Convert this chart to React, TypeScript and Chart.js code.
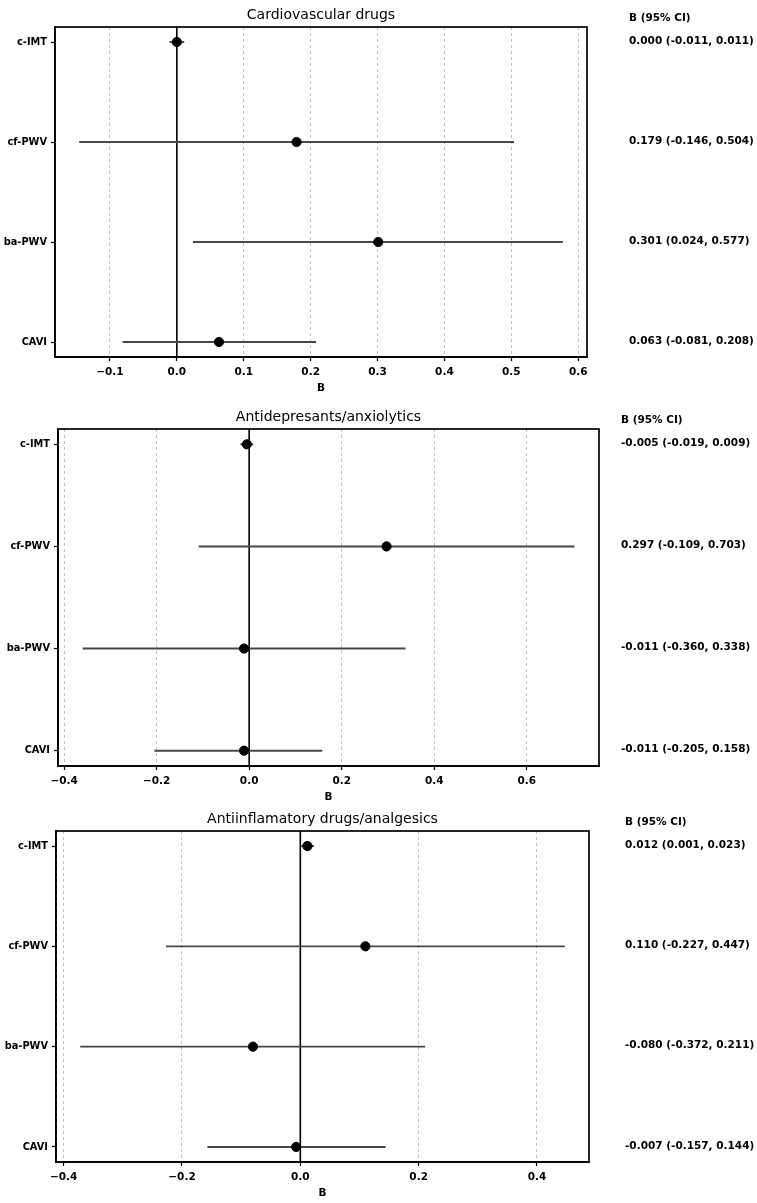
import React, { useEffect, useRef } from "react";
import { Chart, registerables } from "chart.js";

Chart.register(...registerables);

const categories = ["c-IMT", "cf-PWV", "ba-PWV", "CAVI"];

const cardioB = [0.0, 0.179, 0.301, 0.063];
const cardioLo = [-0.011, -0.146, 0.024, -0.081];
const cardioHi = [0.011, 0.504, 0.577, 0.208];
const cardioTicks = [-0.1, 0.0, 0.1, 0.2, 0.3, 0.4, 0.5, 0.6];

const antidepB = [-0.005, 0.297, -0.011, -0.011];
const antidepLo = [-0.019, -0.109, -0.36, -0.205];
const antidepHi = [0.009, 0.703, 0.338, 0.158];
const antidepTicks = [-0.4, -0.2, 0.0, 0.2, 0.4, 0.6];

const inflamB = [0.012, 0.11, -0.08, -0.007];
const inflamLo = [0.001, -0.227, -0.372, -0.157];
const inflamHi = [0.023, 0.447, 0.211, 0.144];
const inflamTicks = [-0.4, -0.2, 0.0, 0.2, 0.4];

const titles = ["Cardiovascular drugs", "Antidepresants/anxiolytics", "Antiinflamatory drugs/analgesics"];

const FONT = "DejaVu Sans";
const W = 757;

type Panel = {
  title: string;
  b: number[];
  lo: number[];
  hi: number[];
  ticks: number[];
  top: number;
  height: number;
  area: { l: number; r: number; t: number; b: number };
  textX: number;
};

const panels: Panel[] = [
  { title: titles[0], b: cardioB, lo: cardioLo, hi: cardioHi, ticks: cardioTicks, top: 0, height: 400, area: { l: 55, r: 587, t: 27, b: 357 }, textX: 629 },
  { title: titles[1], b: antidepB, lo: antidepLo, hi: antidepHi, ticks: antidepTicks, top: 400, height: 403, area: { l: 58, r: 599, t: 29, b: 366 }, textX: 621 },
  { title: titles[2], b: inflamB, lo: inflamLo, hi: inflamHi, ticks: inflamTicks, top: 803, height: 400, area: { l: 56, r: 589, t: 28, b: 359 }, textX: 625 },
];

const fmt = (v: number) => {
  const s = (Math.abs(v) < 1e-9 ? 0 : v).toFixed(1);
  return s.replace("-", "\u2212");
};
const fmt3 = (v: number) => {
  const s = v.toFixed(3);
  return s === "-0.000" ? "0.000" : s;
};

const X_AXIS_H = 40;

function PanelChart({ p }: { p: Panel }) {
  const ref = useRef<HTMLCanvasElement | null>(null);
  useEffect(() => {
    if (!ref.current) return;
    const lo = Math.min(...p.lo);
    const hi = Math.max(...p.hi);
    const span = hi - lo;
    const xmin = lo - 0.05 * span;
    const xmax = hi + 0.05 * span;
    const ymin = -0.15;
    const ymax = categories.length - 1 + 0.15;

    const datasets: any[] = [];
    datasets.push({
      label: "B",
      data: p.b.map((v, i) => ({ x: v, y: i })),
      backgroundColor: "#000",
      borderColor: "#000",
      pointRadius: 4.6,
      pointHoverRadius: 4.6,
      showLine: false,
      order: 0,
    });
    p.lo.forEach((l, i) => {
      datasets.push({
        label: "ci" + i,
        data: [
          { x: l, y: i },
          { x: p.hi[i], y: i },
        ],
        borderColor: "#474747",
        borderWidth: 1.9,
        pointRadius: 0,
        showLine: true,
        order: 1,
      });
    });
    datasets.push({
      label: "zero",
      data: [
        { x: 0, y: ymin },
        { x: 0, y: ymax },
      ],
      borderColor: "#000",
      borderWidth: 1.6,
      pointRadius: 0,
      showLine: true,
      order: 2,
    });

    const overlay = {
      id: "overlay",
      afterDraw(chart: any) {
        const ctx = chart.ctx;
        const a = chart.chartArea;
        const ys = chart.scales.y;
        ctx.save();
        ctx.strokeStyle = "#000";
        ctx.lineWidth = 1.7;
        ctx.strokeRect(a.left, a.top, a.right - a.left, a.bottom - a.top);
        ctx.fillStyle = "#000";
        ctx.textBaseline = "middle";
        ctx.textAlign = "center";
        ctx.font = `14px "${FONT}"`;
        ctx.fillText(p.title, (a.left + a.right) / 2, a.top - 12);
        ctx.font = `bold 10.5px "${FONT}"`;
        ctx.fillText("B", (a.left + a.right) / 2, a.bottom + 31);
        ctx.textAlign = "left";
        ctx.fillText("B (95% CI)", p.textX, a.top - 9);
        p.b.forEach((v, i) => {
          const y = ys.getPixelForValue(i) - 1;
          ctx.fillText(`${fmt3(v)} (${fmt3(p.lo[i])}, ${fmt3(p.hi[i])})`, p.textX, y);
        });
        ctx.restore();
      },
    };

    const chart = new Chart(ref.current, {
      type: "scatter",
      data: { datasets },
      plugins: [overlay],
      options: {
        animation: false,
        responsive: false,
        maintainAspectRatio: false,
        events: [],
        layout: {
          padding: {
            left: 0,
            top: p.area.t,
            right: W - p.area.r,
            bottom: p.height - p.area.b - X_AXIS_H,
          },
        },
        plugins: {
          legend: { display: false },
          tooltip: { enabled: false },
          title: { display: false },
        },
        scales: {
          x: {
            type: "linear",
            min: xmin,
            max: xmax,
            afterBuildTicks: (s: any) => {
              s.ticks = p.ticks.map((v) => ({ value: v }));
            },
            afterFit: (s: any) => {
              s.height = X_AXIS_H;
            },
            ticks: {
              color: "#000",
              font: { family: FONT, size: 10.5, weight: "bold" },
              padding: 5,
              maxRotation: 0,
              autoSkip: false,
              callback: (v: any) => fmt(Number(v)),
            },
            grid: {
              display: true,
              drawOnChartArea: true,
              drawTicks: true,
              color: "#bdbdbd",
              lineWidth: 0.9,
              tickColor: "#000",
              tickLength: 4,
              tickWidth: 1.2,
            },
            border: { display: true, color: "#000", width: 1.7, dash: [3, 3] },
          },
          y: {
            type: "linear",
            reverse: true,
            min: ymin,
            max: ymax,
            afterBuildTicks: (s: any) => {
              s.ticks = categories.map((_, i) => ({ value: i }));
            },
            afterFit: (s: any) => {
              s.width = p.area.l;
            },
            ticks: {
              color: "#000",
              font: { family: FONT, size: 9.8, weight: "bold" },
              padding: 4,
              autoSkip: false,
              callback: (v: any) => categories[Number(v)] ?? "",
            },
            grid: {
              display: true,
              drawOnChartArea: false,
              drawTicks: true,
              tickColor: "#000",
              tickLength: 4,
              tickWidth: 1.2,
            },
            border: { display: true, color: "#000", width: 1.7 },
          },
        },
      } as any,
    });
    return () => chart.destroy();
  }, [p]);
  return (
    <canvas
      ref={ref}
      width={W}
      height={p.height}
      style={{ position: "absolute", left: 0, top: p.top, width: W, height: p.height }}
    />
  );
}

export default function App() {
  return (
    <div style={{ position: "absolute", left: 0, top: 0, width: W, height: 1203, background: "#fff" }}>
      {panels.map((p, i) => (
        <PanelChart key={i} p={p} />
      ))}
    </div>
  );
}
